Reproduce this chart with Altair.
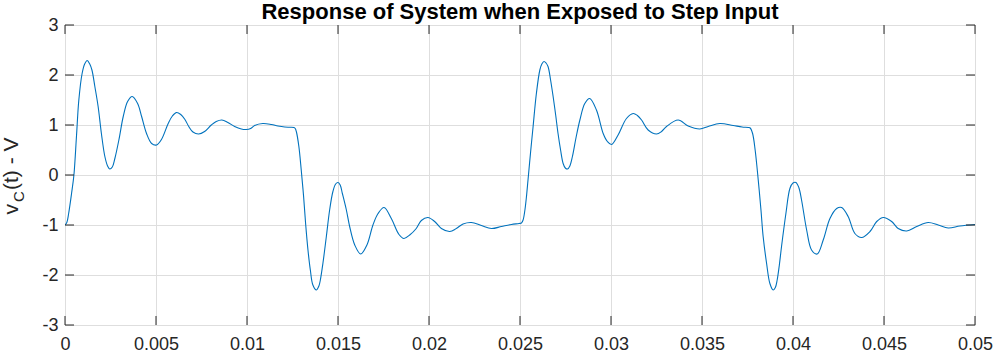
import altair as alt
import pandas as pd

# ---- data ----
t_seg1 = [0.0, 0.0001, 0.0002, 0.00036, 0.00049, 0.00063, 0.00076, 0.00094, 0.00108, 0.00122,
          0.00136, 0.00148, 0.00164, 0.00182, 0.002, 0.00219, 0.00234, 0.00246, 0.0026, 0.00274,
          0.00296, 0.0032, 0.00344, 0.00369, 0.00399, 0.00421, 0.00448, 0.00476, 0.00503, 0.0053,
          0.00567, 0.0059, 0.00613, 0.00636, 0.00659, 0.0068, 0.00703, 0.00734, 0.00767, 0.00804,
          0.00831, 0.00862, 0.00895, 0.00932, 0.00969, 0.00995, 0.0102, 0.01042, 0.01087, 0.01134,
          0.0117, 0.01207, 0.01235, 0.01258]
v_seg1 = [-1.0, -0.95, -0.77, -0.37, 0.0, 0.77, 1.5, 2.03, 2.22, 2.29,
          2.22, 2.1, 1.77, 1.37, 0.83, 0.37, 0.18, 0.12, 0.16, 0.33,
          0.7, 1.17, 1.47, 1.57, 1.43, 1.17, 0.83, 0.63, 0.6, 0.71,
          1.03, 1.18, 1.25, 1.21, 1.11, 0.97, 0.86, 0.82, 0.87, 1.0,
          1.07, 1.1, 1.05, 0.97, 0.92, 0.91, 0.93, 0.99, 1.03, 1.01,
          0.98, 0.96, 0.955, 0.95]

t_seg2 = [0.01265, 0.01271, 0.01285, 0.01298, 0.01311, 0.01322, 0.01335, 0.01348, 0.01362, 0.01381,
          0.01395, 0.01403, 0.01417, 0.01436, 0.01454, 0.01472, 0.01487, 0.015, 0.01512, 0.01524,
          0.01546, 0.01564, 0.01592, 0.01625, 0.01659, 0.01692, 0.0172, 0.01753, 0.01793, 0.01835,
          0.01862, 0.01894, 0.0193, 0.01958, 0.01994, 0.02031, 0.02068, 0.02114, 0.0215, 0.02187,
          0.02233, 0.02288, 0.02343, 0.02398, 0.02453, 0.02495]
v_seg2 = [0.93, 0.87, 0.57, 0.1, -0.43, -0.97, -1.5, -1.9, -2.2, -2.3,
          -2.22, -2.1, -1.77, -1.23, -0.7, -0.33, -0.18, -0.15, -0.2, -0.37,
          -0.7, -1.03, -1.4, -1.58, -1.4, -1.0, -0.77, -0.65, -0.87, -1.19,
          -1.27, -1.2, -1.07, -0.91, -0.85, -0.93, -1.07, -1.13, -1.07, -0.98,
          -0.95, -1.01, -1.07, -1.03, -0.99, -0.97]

t_seg3 = [0.02508, 0.02517, 0.02527, 0.02535, 0.02544, 0.02558, 0.02572, 0.0259, 0.02609, 0.0262,
          0.02632, 0.02643, 0.02654, 0.02668, 0.02682, 0.02696, 0.02709, 0.02723, 0.02737, 0.02749,
          0.02761, 0.02774, 0.02788, 0.02808, 0.02829, 0.02856, 0.02883, 0.0292, 0.02957, 0.0298,
          0.03003, 0.03039, 0.03085, 0.03122, 0.03145, 0.03168, 0.03204, 0.0325, 0.03278, 0.03305,
          0.03369, 0.03424, 0.03488, 0.03534, 0.03598, 0.03671, 0.0372, 0.03755]
v_seg3 = [-0.96, -0.9, -0.7, -0.45, -0.1, 0.45, 0.97, 1.63, 2.1, 2.22,
          2.27, 2.24, 2.17, 1.9, 1.57, 1.2, 0.83, 0.5, 0.23, 0.14,
          0.12, 0.18, 0.37, 0.75, 1.1, 1.43, 1.53, 1.3, 0.83, 0.67,
          0.61, 0.8, 1.13, 1.23, 1.19, 1.1, 0.9, 0.82, 0.87, 0.97,
          1.1, 0.98, 0.92, 0.97, 1.03, 0.99, 0.96, 0.95]

t_seg4 = [0.03765, 0.03778, 0.03792, 0.03809, 0.03824, 0.03836, 0.03855, 0.03873, 0.03891, 0.03903,
          0.03913, 0.03925, 0.03937, 0.03961, 0.03983, 0.04, 0.04016, 0.04032, 0.04047, 0.04075,
          0.04102, 0.04133, 0.04166, 0.04203, 0.0424, 0.04267, 0.04303, 0.0434, 0.04377, 0.04423,
          0.0446, 0.04496, 0.04542, 0.04578, 0.04625, 0.0468, 0.04743, 0.04798, 0.04853, 0.04917,
          0.05]
v_seg4 = [0.94, 0.83, 0.5, -0.1, -0.7, -1.23, -1.77, -2.17, -2.3, -2.25,
          -2.1, -1.8, -1.43, -0.77, -0.27, -0.16, -0.15, -0.25, -0.5, -1.1,
          -1.5, -1.58, -1.3, -0.87, -0.67, -0.65, -0.83, -1.17, -1.25, -1.13,
          -0.93, -0.85, -0.93, -1.07, -1.12, -1.03, -0.95, -1.0, -1.06, -1.02,
          -0.99]

x_ticks = [0, 0.005, 0.01, 0.015, 0.02, 0.025, 0.03, 0.035, 0.04, 0.045, 0.05]
y_ticks = [-3, -2, -1, 0, 1, 2, 3]

title_text = "Response of System when Exposed to Step Input"

# ---- build ----
df = pd.DataFrame({"t": t_seg1 + t_seg2 + t_seg3 + t_seg4,
                   "v": v_seg1 + v_seg2 + v_seg3 + v_seg4})
df_xt = pd.DataFrame({"t": x_ticks})
df_yt = pd.DataFrame({"v": y_ticks})
dummy = pd.DataFrame({"a": [0]})

W, H = 910, 300
TICK = 9
AX = "#262626"
FONT = "Liberation Sans"

xs = alt.Scale(domain=[0, 0.05], nice=False, zero=False)
ys = alt.Scale(domain=[-3, 3], nice=False)

x_axis = alt.Axis(values=x_ticks, format="~g", title=None, grid=True, gridColor="#DEDEDE",
                  ticks=False, domain=False, labelFont=FONT, labelFontSize=18, labelColor=AX,
                  labelPadding=10, labelOverlap=False, labelFlush=False, labelBound=False)
y_axis = alt.Axis(values=y_ticks, title=None, grid=True, gridColor="#DEDEDE",
                  labelExpr="'' + datum.value",
                  ticks=False, domain=False, labelFont=FONT, labelFontSize=18, labelColor=AX,
                  labelPadding=7, labelOverlap=False, labelFlush=False, labelBound=False)

line = alt.Chart(df).mark_line(color="#0072BD", strokeWidth=1.1, interpolate="catmull-rom", clip=True).encode(
    x=alt.X("t:Q", scale=xs, axis=x_axis),
    y=alt.Y("v:Q", scale=ys, axis=y_axis),
)

top_ticks = alt.Chart(df_xt).mark_rule(color=AX, strokeWidth=1).encode(
    x=alt.X("t:Q", scale=xs, axis=x_axis), y=alt.value(0), y2=alt.value(TICK))
bot_ticks = alt.Chart(df_xt).mark_rule(color=AX, strokeWidth=1).encode(
    x=alt.X("t:Q", scale=xs, axis=x_axis), y=alt.value(H), y2=alt.value(H - TICK))
left_ticks = alt.Chart(df_yt).mark_rule(color=AX, strokeWidth=1).encode(
    y=alt.Y("v:Q", scale=ys, axis=y_axis), x=alt.value(0), x2=alt.value(TICK))
right_ticks = alt.Chart(df_yt).mark_rule(color=AX, strokeWidth=1).encode(
    y=alt.Y("v:Q", scale=ys, axis=y_axis), x=alt.value(W), x2=alt.value(W - TICK))

title_mark = alt.Chart(dummy).mark_text(text=title_text, align="center", baseline="alphabetic",
                                        font=FONT, fontSize=22, fontWeight="bold", color="#000000").encode(
    x=alt.value(W / 2), y=alt.value(-6))

lab_v = alt.Chart(dummy).mark_text(text="v", angle=270, align="left", baseline="alphabetic",
                                   font=FONT, fontSize=21, color=AX).encode(
    x=alt.value(-47), y=alt.value(189.5))
lab_c = alt.Chart(dummy).mark_text(text="C", angle=270, align="left", baseline="alphabetic",
                                   font=FONT, fontSize=15, color=AX).encode(
    x=alt.value(-41), y=alt.value(177))
lab_rest = alt.Chart(dummy).mark_text(text="(t) - V", angle=270, align="left", baseline="alphabetic",
                                      font=FONT, fontSize=21, color=AX).encode(
    x=alt.value(-47), y=alt.value(165))

chart = alt.layer(line, top_ticks, bot_ticks, left_ticks, right_ticks,
                  title_mark, lab_v, lab_c, lab_rest).properties(
    width=W, height=H,
    autosize=alt.AutoSizeParams(type="none"),
    padding={"left": 65, "top": 25, "right": 22, "bottom": 30},
).configure_view(stroke=AX, strokeWidth=1).configure(background="white")

chart.save("out.html", embed_options={"renderer": "svg", "actions": False})
